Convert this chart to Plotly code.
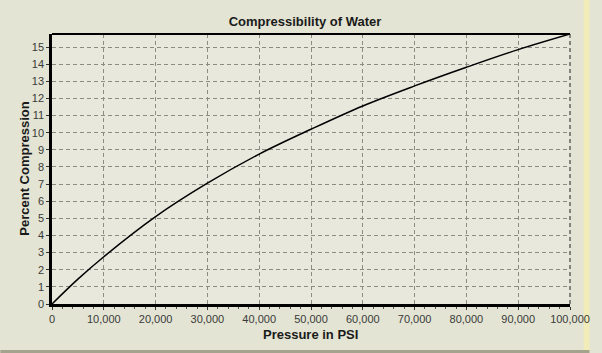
import plotly.graph_objects as go

pressure_psi = [0, 5000, 10000, 20000, 30000, 40000, 50000, 60000, 70000, 80000, 90000, 100000]
percent_compression = [0, 1.45, 2.76, 5.1, 7.05, 8.75, 10.2, 11.56, 12.73, 13.82, 14.85, 15.76]

x_ticks = [0, 10000, 20000, 30000, 40000, 50000, 60000, 70000, 80000, 90000, 100000]
y_ticks = list(range(0, 16))

fig = go.Figure()
fig.add_trace(go.Scatter(
    x=pressure_psi, y=percent_compression, mode="lines",
    line=dict(color="black", width=1.5, shape="spline", smoothing=1.0),
    hoverinfo="skip", showlegend=False,
))

font_main = "Liberation Sans, Arial, sans-serif"
grid_col = "#8c8c84"

L, R, T, B = 52, 583, 34, 304
PW, PH = R - L, B - T

fig.update_layout(
    width=602, height=353,
    margin=dict(l=L, r=602 - R, t=T, b=353 - B),
    paper_bgcolor="#e3e4d3",
    plot_bgcolor="#e8e8dc",
    font=dict(family=font_main, size=11, color="#3a3a3a"),
    title=dict(text="<b>Compressibility of Water</b>", x=305 / 602, xanchor="center",
               y=1 - 21 / 353, yanchor="middle", yref="container",
               font=dict(size=13, color="#1a1a1a", family=font_main)),
    xaxis=dict(
        range=[0, 100000], tickvals=x_ticks, tickformat=",d",
        showgrid=True, gridcolor=grid_col, griddash="4px,3px", gridwidth=1,
        showline=True, linecolor="black", linewidth=2.5,
        ticks="outside", ticklen=3, tickcolor="#333", tickwidth=1,
        minor=dict(dtick=2000, ticks="outside", ticklen=2, tickcolor="#555", showgrid=False),
        zeroline=False, ticklabeloverflow="allow",
        tickfont=dict(size=11, color="#3a3a3a"),
    ),
    yaxis=dict(
        range=[0, 15.76], tickvals=y_ticks,
        showgrid=True, gridcolor=grid_col, griddash="4px,3px", gridwidth=1,
        showline=True, linecolor="black", linewidth=2.5,
        ticks="outside", ticklen=3, tickcolor="#333", tickwidth=1,
        zeroline=False,
        tickfont=dict(size=11, color="#3a3a3a"),
    ),
    annotations=[
        dict(text="<b>Pressure in PSI</b>", xref="paper", yref="paper",
             x=(317 - L) / PW, y=(B - 334) / PH, xanchor="center", yanchor="middle",
             showarrow=False, font=dict(size=13, color="#1a1a1a", family=font_main)),
        dict(text="<b>Percent Compression</b>", xref="paper", yref="paper",
             x=(23 - L) / PW, y=0.5, xanchor="center", yanchor="middle", textangle=-90,
             showarrow=False, font=dict(size=13, color="#1a1a1a", family=font_main)),
    ],
    shapes=[
        dict(type="line", xref="paper", yref="paper", x0=0, x1=1, y0=1, y1=1,
             line=dict(color="black", width=2)),
        dict(type="line", xref="paper", yref="paper", x0=1, x1=1, y0=0, y1=1,
             line=dict(color="#222", width=1, dash="4px,3px")),
        dict(type="rect", xref="paper", yref="paper",
             x0=(597 - L) / PW, x1=(603 - L) / PW, y0=(B - 354) / PH, y1=(B + 1) / PH,
             line=dict(width=0), fillcolor="#f2edb8", layer="below"),
        dict(type="rect", xref="paper", yref="paper",
             x0=(-1 - L) / PW, x1=(603 - L) / PW, y0=(B - 354) / PH, y1=(B - 350) / PH,
             line=dict(width=0), fillcolor="#a4a48e", layer="below"),
    ],
)

fig.write_html("out.html")
